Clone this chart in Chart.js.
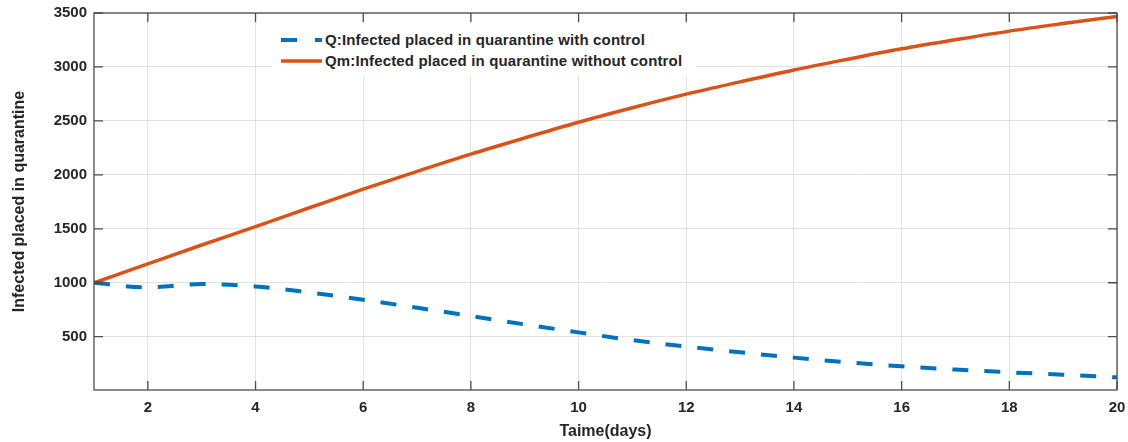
<!DOCTYPE html>
<html>
<head>
<meta charset="utf-8">
<script src="https://cdn.jsdelivr.net/npm/chart.js@4.4.0/dist/chart.umd.min.js"></script>
<style>
  html, body { margin: 0; padding: 0; background: #fff; }
  #wrap { position: relative; width: 1128px; height: 442px; }
  #legende {
    position: absolute; left: 272px; top: 24px; width: 424px; height: 52px;
    background: #fff; font: bold 15px "Liberation Sans", Arial, sans-serif; color: #262626;
    letter-spacing: 0.15px;
  }
  .zeile { position: absolute; left: 9px; height: 20px; line-height: 20px; white-space: nowrap; }
  .zeile svg { vertical-align: middle; margin-right: 3px; position: relative; top: -1px; }
</style>
</head>
<body>
<div id="wrap">
  <canvas id="chartQ" width="1128" height="442"></canvas>
  <div id="legende"></div>
</div>
<script>
// Werte (Tage 1..20)
const tage = [1, 2, 3, 4, 5, 6, 7, 8, 9, 10, 11, 12, 13, 14, 15, 16, 17, 18, 19, 20];
const mitKontrolle = [1000, 957, 988, 966, 910, 843, 768, 692, 614, 540, 468, 408, 355, 306, 262, 225, 195, 170, 147, 123];
const ohneKontrolle = [1000, 1175, 1350, 1520, 1695, 1868, 2032, 2192, 2342, 2488, 2622, 2748, 2862, 2972, 3072, 3168, 3252, 3332, 3402, 3468];
const xTicks = [2, 4, 6, 8, 10, 12, 14, 16, 18, 20];
const yTicks = [500, 1000, 1500, 2000, 2500, 3000, 3500];
const LABELS = ['Q:Infected placed in quarantine with control', 'Qm:Infected placed in quarantine without control'];
const FARBEN = ['#0072BD', '#D95319'];

const achse = '#4d4d4d';
const gitter = '#e3e3e3';
const tickSchrift = { family: '"Liberation Sans", Arial, sans-serif', size: 15, weight: 'bold' };
const titelSchrift = { family: '"Liberation Sans", Arial, sans-serif', size: 16, weight: 'bold' };

// MATLAB-artige Achsbox mit nach innen zeigenden Ticks
const boxPlugin = {
  id: 'box',
  afterDatasetsDraw(chart) {
    const { ctx, chartArea: a, scales: { x, y } } = chart;
    ctx.save();
    ctx.strokeStyle = achse;
    ctx.lineWidth = 1.3;
    ctx.strokeRect(a.left, a.top, a.right - a.left, a.bottom - a.top);
    ctx.beginPath();
    const len = 9;
    for (const t of xTicks) {
      const px = x.getPixelForValue(t);
      ctx.moveTo(px, a.bottom); ctx.lineTo(px, a.bottom - len);
      ctx.moveTo(px, a.top); ctx.lineTo(px, a.top + len);
    }
    for (const t of yTicks) {
      const py = y.getPixelForValue(t);
      ctx.moveTo(a.left, py); ctx.lineTo(a.left + len, py);
      ctx.moveTo(a.right, py); ctx.lineTo(a.right - len, py);
    }
    ctx.stroke();
    ctx.restore();
  },
};

const ds = (daten, i, dash, breite) => ({
  label: LABELS[i],
  data: tage.map((t, k) => ({ x: t, y: daten[k] })),
  borderColor: FARBEN[i],
  borderWidth: breite,
  borderDash: dash,
  borderCapStyle: 'butt',
  pointRadius: 0,
  fill: false,
  cubicInterpolationMode: 'monotone',
});

new Chart(document.getElementById('chartQ').getContext('2d'), {
  type: 'line',
  data: { datasets: [ds(mitKontrolle, 0, [16, 16], 4), ds(ohneKontrolle, 1, [], 3.5)] },
  options: {
    responsive: false,
    animation: false,
    layout: { padding: { left: 0, right: 11, top: 13, bottom: 0 } },
    plugins: { legend: { display: false }, tooltip: { enabled: false } },
    scales: {
      x: {
        type: 'linear', min: 1, max: 20,
        afterBuildTicks: (s) => { s.ticks = xTicks.map((v) => ({ value: v })); },
        afterFit: (s) => { s.height = 52; s.paddingLeft = 0; s.paddingRight = 0; },
        ticks: { color: '#262626', font: tickSchrift, padding: 9, maxRotation: 0 },
        grid: { color: gitter, drawTicks: false },
        border: { display: false },
        title: { display: true, text: 'Taime(days)', color: '#262626', font: titelSchrift, padding: { top: 0, bottom: 1 } },
      },
      y: {
        type: 'linear', min: 6, max: 3500,
        afterBuildTicks: (s) => { s.ticks = yTicks.map((v) => ({ value: v })); },
        afterFit: (s) => { s.width = 94; s.paddingTop = 0; s.paddingBottom = 0; },
        ticks: { color: '#262626', font: tickSchrift, padding: 7, callback: (v) => String(v) },
        grid: { color: gitter, drawTicks: false },
        border: { display: false },
        title: { display: true, text: 'Infected placed in quarantine', color: '#262626', font: titelSchrift, padding: { top: 10, bottom: 0 } },
      },
    },
  },
  plugins: [boxPlugin],
});

// Legende als HTML über der Plotfläche
const legende = document.getElementById('legende');
LABELS.forEach((text, i) => {
  const zeile = document.createElement('div');
  zeile.className = 'zeile';
  zeile.style.top = (6 + i * 21) + 'px';
  const linie = i === 0
    ? `<line x1="0" y1="4" x2="16" y2="4" stroke="${FARBEN[0]}" stroke-width="4"/><line x1="34" y1="4" x2="41" y2="4" stroke="${FARBEN[0]}" stroke-width="4"/>`
    : `<line x1="0" y1="4" x2="41" y2="4" stroke="${FARBEN[1]}" stroke-width="3.5"/>`;
  zeile.innerHTML = `<svg width="41" height="8">${linie}</svg>${text}`;
  legende.appendChild(zeile);
});
</script>
</body>
</html>
